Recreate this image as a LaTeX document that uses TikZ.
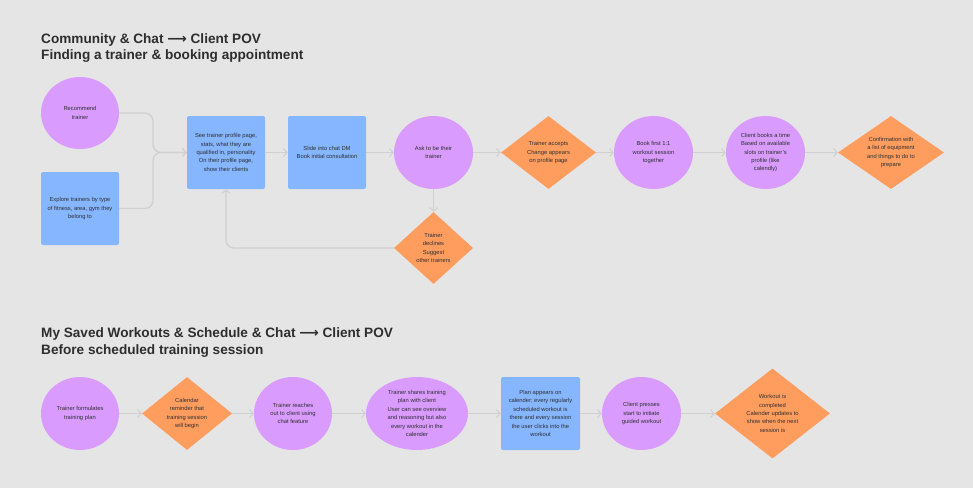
\documentclass[tikz,border=0pt]{standalone}
\usepackage{fontspec}
\setmainfont{Liberation Sans}
\newfontfamily\symf{DejaVu Sans}
\usetikzlibrary{shapes.geometric,arrows.meta}
\definecolor{bg}{HTML}{E5E5E5}
\definecolor{purp}{HTML}{DA9BFF}
\definecolor{blu}{HTML}{85B6FF}
\definecolor{orng}{HTML}{FF9D5F}
\definecolor{lnc}{HTML}{D0D0D0}
\definecolor{txc}{HTML}{2F2F2F}
\definecolor{ttc}{HTML}{2E2E2E}
\tikzset{
  x=1pt, y=-1pt,
  circ/.style={ellipse, fill=purp, draw=none, inner sep=0pt},
  boxn/.style={rectangle, rounded corners=2pt, fill=blu, draw=none, inner sep=0pt},
  dia/.style={diamond, fill=orng, draw=none, inner sep=0pt},
  txt/.style={align=center, text=txc, font=\fontsize{5.8}{8.4}\selectfont, inner sep=0pt},
  ttl/.style={anchor=base west, text=ttc, inner sep=0pt, font=\fontsize{13.6}{16}\selectfont\bfseries},
  conn/.style={draw=lnc, line width=1.3pt, rounded corners=8pt, -{Straight Barb[length=3.5pt,width=8pt,line width=1.1pt]}},
}
\begin{document}
\begin{tikzpicture}
\fill[bg] (0,0) rectangle (973,488);
\useasboundingbox (0,0) rectangle (973,488);

% titles
\node[ttl] (t1) at (41,43) {Community \& Chat {\symf ⟶} Client POV};
\node[ttl] (t2) at (41,59) {Finding a trainer \& booking appointment};
\node[ttl] (t3) at (41,337) {My Saved Workouts \& Schedule \& Chat {\symf ⟶} Client POV};
\node[ttl] (t4) at (41,354) {Before scheduled training session};

% top row shapes
\node[circ, minimum width=78, minimum height=72] (rec) at (80,113) {};
\node[txt] (rect) at (rec) {Recommend\\trainer};
\node[boxn, minimum width=78, minimum height=73] (exp) at (80,208.5) {};
\node[txt] (expt) at (exp) {Explore trainers by type\\of fitness, area, gym they\\belong to};
\node[boxn, minimum width=78, minimum height=73] (pr) at (226,152.5) {};
\node[txt] (prt) at (pr) {See trainer profile page,\\stats, what they are\\qualified in, personality\\On their profile page,\\show their clients};
\node[boxn, minimum width=78, minimum height=73] (sl) at (327,152.5) {};
\node[txt] (slt) at (sl) {Slide into chat DM\\Book initial consultation};
\node[circ, minimum width=79, minimum height=73] (ask) at (433.5,152.5) {};
\node[txt] (askt) at (ask) {Ask to be their\\trainer};
\node[dia, minimum width=79, minimum height=72] (dec) at (433.5,248) {};
\node[txt] (dect) at (dec) {Trainer\\declines\\Suggest\\other trainers};
\node[dia, minimum width=95, minimum height=73] (acc) at (548.5,152.5) {};
\node[txt] (acct) at (acc) {Trainer accepts\\Change appears\\on profile page};
\node[circ, minimum width=79, minimum height=73] (bk) at (653.5,152.5) {};
\node[txt] (bkt) at (bk) {Book first 1:1\\workout session\\together};
\node[circ, minimum width=79, minimum height=73] (cb) at (765.5,152.5) {};
\node[txt] (cbt) at (cb) {Client books a time\\Based on available\\slots on trainer's\\profile (like\\calendly)};
\node[dia, minimum width=106, minimum height=73] (conf) at (891,152.5) {};
\node[txt] (conft) at (conf) {Confirmation with\\a list of equipment\\and things to do to\\prepare};

% top connectors
\coordinate (m) at (153,152.5);
\draw[conn] (rec.east) -| (m) -- (pr.west);
\draw[conn] (exp.east) -| (m) -- (pr.west);
\draw[conn] (pr) -- (sl);
\draw[conn] (sl) -- (ask);
\draw[conn] (ask) -- (dec);
\draw[conn] (dec.west) -| (pr.south);
\draw[conn] (ask) -- (acc);
\draw[conn] (acc) -- (bk);
\draw[conn] (bk) -- (cb);
\draw[conn] (cb) -- (conf);

% bottom row shapes
\node[circ, minimum width=78, minimum height=73] (tf) at (80,413.5) {};
\node[txt] (tft) at (tf) {Trainer formulates\\training plan};
\node[dia, minimum width=90, minimum height=73] (cal) at (187,413.5) {};
\node[txt] (calt) at (cal) {Calendar\\reminder that\\training session\\will begin};
\node[circ, minimum width=78, minimum height=73] (tr) at (293,413.5) {};
\node[txt] (trt) at (tr) {Trainer reaches\\out to client using\\chat feature};
\node[circ, minimum width=102, minimum height=73] (ts) at (417,413.5) {};
\node[txt] (tst) at (ts) {Trainer shares training\\plan with client\\User can see overview\\and reasoning but also\\every workout in the\\calender};
\node[boxn, minimum width=79, minimum height=73] (pa) at (540.5,413.5) {};
\node[txt] (pat) at (pa) {Plan appears on\\calender; every regularly\\scheduled workout is\\there and every session\\the user clicks into the\\workout};
\node[circ, minimum width=79, minimum height=73] (cp) at (641.5,413.5) {};
\node[txt] (cpt) at (cp) {Client presses\\start to initiate\\guided workout};
\node[dia, minimum width=115, minimum height=90] (wc) at (772.5,413.5) {};
\node[txt] (wct) at (wc) {Workout is\\completed\\Calender updates to\\show when the next\\session is};

% bottom connectors
\draw[conn] (tf) -- (cal);
\draw[conn] (cal) -- (tr);
\draw[conn] (tr) -- (ts);
\draw[conn] (ts) -- (pa);
\draw[conn] (pa) -- (cp);
\draw[conn] (cp) -- (wc);
\end{tikzpicture}
\end{document}
